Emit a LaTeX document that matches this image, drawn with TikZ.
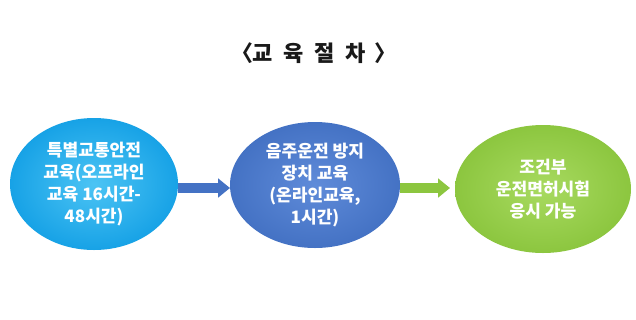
\documentclass[tikz,border=0pt]{standalone}
\usepackage{fontspec}
\newfontfamily\krfont{Noto Sans CJK KR}
\usetikzlibrary{shapes.geometric,arrows.meta}
\definecolor{cyanA}{HTML}{17A2E6}
\definecolor{cyanL}{HTML}{4CC4F4}
\definecolor{blueA}{HTML}{4472C4}
\definecolor{blueL}{HTML}{5F8BD9}
\definecolor{greenA}{HTML}{8CC63F}
\definecolor{greenL}{HTML}{A8DA60}
\begin{document}
\begin{tikzpicture}[x=0.75pt,y=-0.75pt,
  bubble/.style={ellipse,inner sep=0pt,align=center,text=white,
    font=\krfont\bfseries\fontsize{12.8}{16.4}\selectfont},
  flow/.style={line width=7.5pt,-{Triangle[width=14pt,length=9pt]}}]
\useasboundingbox (0,0) rectangle (636,319);
\fill[white] (0,0) rectangle (636,319);
\node[font=\krfont\bfseries\fontsize{16.5}{20}\selectfont,text=black!90,inner sep=0pt] (title) at (314,53)
  {〈\hspace{-0.05em}교\hspace{0.48em}육\hspace{0.48em}절\hspace{0.48em}차\hspace{0.4em}〉};
\node[bubble,minimum width=126pt,minimum height=99pt,inner color=cyanL,outer color=cyanA] (c1) at (94,184)
  {특별교통안전\\교육(오프라인\\교육 16시간-\\48시간)};
\node[bubble,minimum width=127.5pt,minimum height=94.5pt,inner color=blueL,outer color=blueA] (c2) at (315,185)
  {음주운전 방지\\장치 교육\\(온라인교육,\\1시간)};
\node[bubble,minimum width=132pt,minimum height=96pt,inner color=greenL,outer color=greenA] (c3) at (543,189)
  {조건부\\운전면허시험\\응시 가능};
\coordinate (a1s) at (178,188);
\coordinate (a1e) at (230,188);
\coordinate (a2s) at (400,188);
\coordinate (a2e) at (450,188);
\draw[flow,blueA] (a1s) -- (a1e);
\draw[flow,greenA] (a2s) -- (a2e);
\end{tikzpicture}
\end{document}
